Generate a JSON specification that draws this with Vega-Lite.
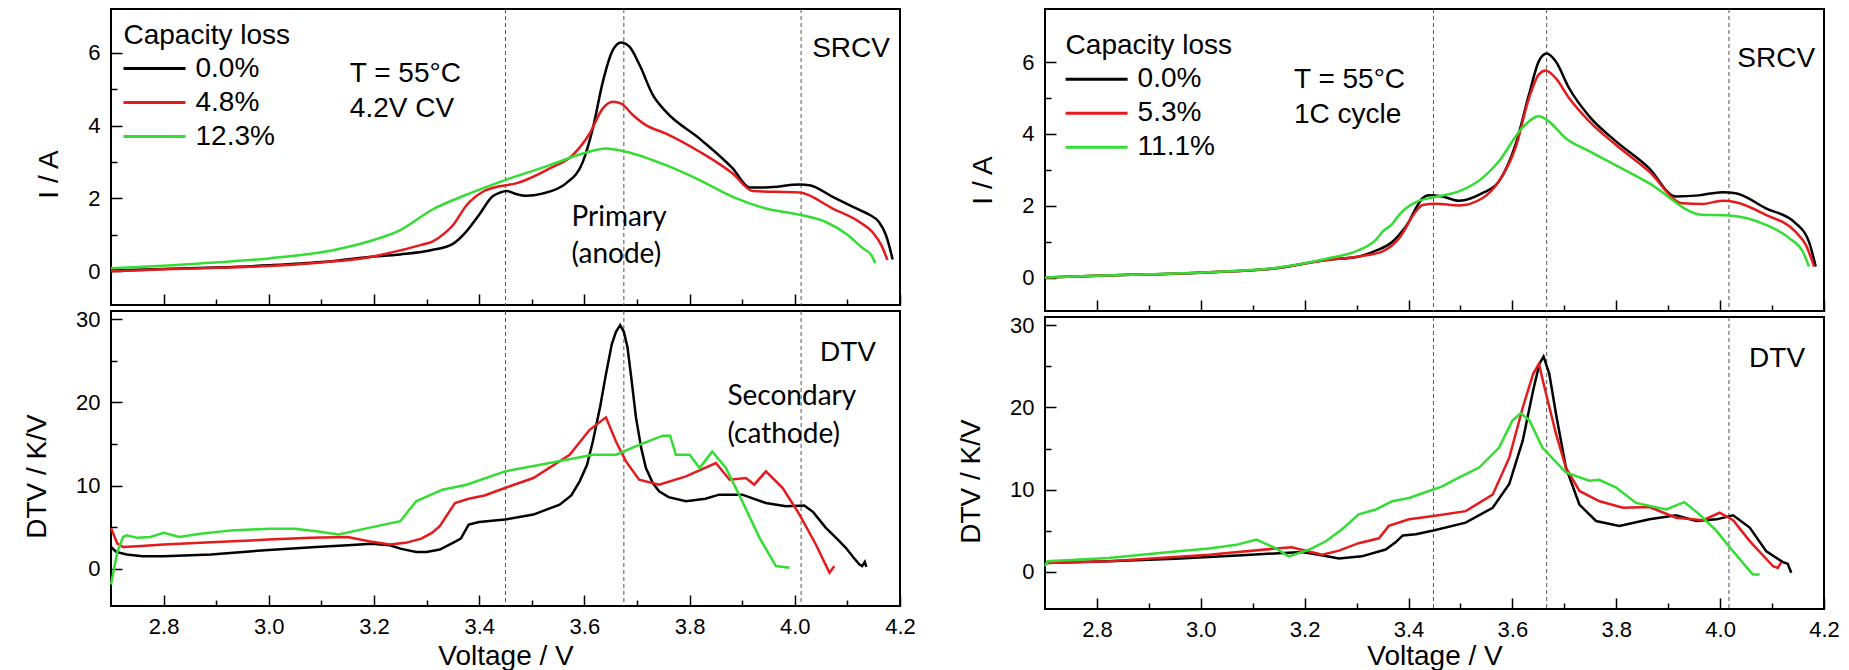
{
  "$schema": "https://vega.github.io/schema/vega-lite/v6.json",
  "padding": {"left": 22, "top": 7, "right": 0, "bottom": 0},
  "background": "white",
  "config": {
    "font": "Liberation Sans",
    "view": {"stroke": "black", "strokeWidth": 2},
    "axis": {"grid": false, "domain": false, "tickColor": "black", "tickWidth": 1.5, "labelColor": "black", "titleColor": "black", "labelFontSize": 22, "titleFontSize": 28, "titleFontWeight": "normal", "labelFont": "Liberation Sans", "titleFont": "Liberation Sans", "labelOverlap": false, "labelFlush": false, "labelBound": false},
    "legend": {"titleFontSize": 28, "titleFontWeight": "normal", "titleFont": "Liberation Sans", "titleColor": "black", "labelFontSize": 28, "labelFont": "Liberation Sans", "labelColor": "black", "symbolType": "M-3,0H3", "symbolSize": 427, "symbolStrokeWidth": 3, "symbolOffset": 17, "labelOffset": 27, "rowPadding": 6, "titlePadding": 5, "padding": 0}
  },
  "datasets": {
    "refL": [{"V": 3.45}, {"V": 3.675}, {"V": 4.012}],
    "refR": [{"V": 3.448}, {"V": 3.666}, {"V": 4.017}],
    "leftI": [
      {"loss": "0.0%", "V": 2.70, "y": 0.02}, {"loss": "0.0%", "V": 2.80, "y": 0.06}, {"loss": "0.0%", "V": 2.90, "y": 0.10}, {"loss": "0.0%", "V": 3.00, "y": 0.16}, {"loss": "0.0%", "V": 3.10, "y": 0.25}, {"loss": "0.0%", "V": 3.19, "y": 0.39}, {"loss": "0.0%", "V": 3.25, "y": 0.46}, {"loss": "0.0%", "V": 3.31, "y": 0.58}, {"loss": "0.0%", "V": 3.35, "y": 0.75}, {"loss": "0.0%", "V": 3.375, "y": 1.08}, {"loss": "0.0%", "V": 3.40, "y": 1.55}, {"loss": "0.0%", "V": 3.425, "y": 2.05}, {"loss": "0.0%", "V": 3.44, "y": 2.16}, {"loss": "0.0%", "V": 3.452, "y": 2.2}, {"loss": "0.0%", "V": 3.47, "y": 2.12}, {"loss": "0.0%", "V": 3.49, "y": 2.07}, {"loss": "0.0%", "V": 3.52, "y": 2.13}, {"loss": "0.0%", "V": 3.565, "y": 2.41}, {"loss": "0.0%", "V": 3.597, "y": 3.0}, {"loss": "0.0%", "V": 3.616, "y": 3.92}, {"loss": "0.0%", "V": 3.635, "y": 5.2}, {"loss": "0.0%", "V": 3.654, "y": 6.07}, {"loss": "0.0%", "V": 3.67, "y": 6.28}, {"loss": "0.0%", "V": 3.686, "y": 6.16}, {"loss": "0.0%", "V": 3.705, "y": 5.66}, {"loss": "0.0%", "V": 3.73, "y": 4.84}, {"loss": "0.0%", "V": 3.755, "y": 4.38}, {"loss": "0.0%", "V": 3.819, "y": 3.64}, {"loss": "0.0%", "V": 3.882, "y": 2.82}, {"loss": "0.0%", "V": 3.914, "y": 2.30}, {"loss": "0.0%", "V": 3.945, "y": 2.30}, {"loss": "0.0%", "V": 4.009, "y": 2.38}, {"loss": "0.0%", "V": 4.028, "y": 2.36}, {"loss": "0.0%", "V": 4.072, "y": 2.04}, {"loss": "0.0%", "V": 4.123, "y": 1.68}, {"loss": "0.0%", "V": 4.142, "y": 1.55}, {"loss": "0.0%", "V": 4.16, "y": 1.35}, {"loss": "0.0%", "V": 4.173, "y": 1.0}, {"loss": "0.0%", "V": 4.183, "y": 0.5}, {"loss": "0.0%", "V": 4.186, "y": 0.32},
      {"loss": "4.8%", "V": 2.70, "y": 0.0}, {"loss": "4.8%", "V": 2.75, "y": 0.02}, {"loss": "4.8%", "V": 2.80, "y": 0.05}, {"loss": "4.8%", "V": 2.90, "y": 0.09}, {"loss": "4.8%", "V": 3.00, "y": 0.14}, {"loss": "4.8%", "V": 3.10, "y": 0.24}, {"loss": "4.8%", "V": 3.186, "y": 0.37}, {"loss": "4.8%", "V": 3.25, "y": 0.57}, {"loss": "4.8%", "V": 3.29, "y": 0.72}, {"loss": "4.8%", "V": 3.312, "y": 0.82}, {"loss": "4.8%", "V": 3.335, "y": 1.05}, {"loss": "4.8%", "V": 3.35, "y": 1.26}, {"loss": "4.8%", "V": 3.376, "y": 1.81}, {"loss": "4.8%", "V": 3.407, "y": 2.18}, {"loss": "4.8%", "V": 3.439, "y": 2.33}, {"loss": "4.8%", "V": 3.47, "y": 2.41}, {"loss": "4.8%", "V": 3.534, "y": 2.82}, {"loss": "4.8%", "V": 3.578, "y": 3.19}, {"loss": "4.8%", "V": 3.61, "y": 3.78}, {"loss": "4.8%", "V": 3.635, "y": 4.47}, {"loss": "4.8%", "V": 3.654, "y": 4.65}, {"loss": "4.8%", "V": 3.67, "y": 4.60}, {"loss": "4.8%", "V": 3.692, "y": 4.29}, {"loss": "4.8%", "V": 3.717, "y": 4.01}, {"loss": "4.8%", "V": 3.755, "y": 3.78}, {"loss": "4.8%", "V": 3.819, "y": 3.28}, {"loss": "4.8%", "V": 3.882, "y": 2.68}, {"loss": "4.8%", "V": 3.92, "y": 2.20}, {"loss": "4.8%", "V": 4.009, "y": 2.16}, {"loss": "4.8%", "V": 4.072, "y": 1.72}, {"loss": "4.8%", "V": 4.123, "y": 1.35}, {"loss": "4.8%", "V": 4.148, "y": 1.07}, {"loss": "4.8%", "V": 4.165, "y": 0.7}, {"loss": "4.8%", "V": 4.176, "y": 0.31},
      {"loss": "12.3%", "V": 2.70, "y": 0.08}, {"loss": "12.3%", "V": 2.80, "y": 0.15}, {"loss": "12.3%", "V": 2.87, "y": 0.21}, {"loss": "12.3%", "V": 3.00, "y": 0.35}, {"loss": "12.3%", "V": 3.124, "y": 0.58}, {"loss": "12.3%", "V": 3.186, "y": 0.8}, {"loss": "12.3%", "V": 3.249, "y": 1.12}, {"loss": "12.3%", "V": 3.312, "y": 1.70}, {"loss": "12.3%", "V": 3.376, "y": 2.10}, {"loss": "12.3%", "V": 3.449, "y": 2.50}, {"loss": "12.3%", "V": 3.534, "y": 2.91}, {"loss": "12.3%", "V": 3.597, "y": 3.23}, {"loss": "12.3%", "V": 3.641, "y": 3.37}, {"loss": "12.3%", "V": 3.679, "y": 3.28}, {"loss": "12.3%", "V": 3.755, "y": 2.91}, {"loss": "12.3%", "V": 3.819, "y": 2.50}, {"loss": "12.3%", "V": 3.882, "y": 2.04}, {"loss": "12.3%", "V": 3.945, "y": 1.72}, {"loss": "12.3%", "V": 4.009, "y": 1.55}, {"loss": "12.3%", "V": 4.059, "y": 1.35}, {"loss": "12.3%", "V": 4.10, "y": 1.0}, {"loss": "12.3%", "V": 4.13, "y": 0.62}, {"loss": "12.3%", "V": 4.145, "y": 0.45}, {"loss": "12.3%", "V": 4.153, "y": 0.22}
    ],
    "leftD": [
      {"loss": "0.0%", "V": 2.700, "y": 2.6}, {"loss": "0.0%", "V": 2.710, "y": 2.0}, {"loss": "0.0%", "V": 2.730, "y": 1.7}, {"loss": "0.0%", "V": 2.76, "y": 1.5}, {"loss": "0.0%", "V": 2.80, "y": 1.5}, {"loss": "0.0%", "V": 2.89, "y": 1.7}, {"loss": "0.0%", "V": 3.00, "y": 2.25}, {"loss": "0.0%", "V": 3.09, "y": 2.6}, {"loss": "0.0%", "V": 3.15, "y": 2.8}, {"loss": "0.0%", "V": 3.196, "y": 2.98}, {"loss": "0.0%", "V": 3.23, "y": 2.8}, {"loss": "0.0%", "V": 3.25, "y": 2.4}, {"loss": "0.0%", "V": 3.28, "y": 2.0}, {"loss": "0.0%", "V": 3.30, "y": 2.0}, {"loss": "0.0%", "V": 3.325, "y": 2.3}, {"loss": "0.0%", "V": 3.35, "y": 3.1}, {"loss": "0.0%", "V": 3.365, "y": 3.6}, {"loss": "0.0%", "V": 3.38, "y": 5.3}, {"loss": "0.0%", "V": 3.40, "y": 5.6}, {"loss": "0.0%", "V": 3.449, "y": 5.9}, {"loss": "0.0%", "V": 3.503, "y": 6.5}, {"loss": "0.0%", "V": 3.553, "y": 7.7}, {"loss": "0.0%", "V": 3.575, "y": 8.8}, {"loss": "0.0%", "V": 3.591, "y": 10.5}, {"loss": "0.0%", "V": 3.605, "y": 12.5}, {"loss": "0.0%", "V": 3.616, "y": 15.3}, {"loss": "0.0%", "V": 3.63, "y": 19.5}, {"loss": "0.0%", "V": 3.641, "y": 23.4}, {"loss": "0.0%", "V": 3.652, "y": 27.0}, {"loss": "0.0%", "V": 3.66, "y": 28.5}, {"loss": "0.0%", "V": 3.668, "y": 29.3}, {"loss": "0.0%", "V": 3.675, "y": 28.5}, {"loss": "0.0%", "V": 3.682, "y": 26.6}, {"loss": "0.0%", "V": 3.69, "y": 22.5}, {"loss": "0.0%", "V": 3.698, "y": 18.2}, {"loss": "0.0%", "V": 3.708, "y": 14.5}, {"loss": "0.0%", "V": 3.717, "y": 12.1}, {"loss": "0.0%", "V": 3.73, "y": 10.3}, {"loss": "0.0%", "V": 3.742, "y": 9.3}, {"loss": "0.0%", "V": 3.76, "y": 8.6}, {"loss": "0.0%", "V": 3.793, "y": 8.1}, {"loss": "0.0%", "V": 3.83, "y": 8.4}, {"loss": "0.0%", "V": 3.856, "y": 8.9}, {"loss": "0.0%", "V": 3.90, "y": 8.9}, {"loss": "0.0%", "V": 3.945, "y": 7.9}, {"loss": "0.0%", "V": 3.983, "y": 7.5}, {"loss": "0.0%", "V": 4.018, "y": 7.6}, {"loss": "0.0%", "V": 4.035, "y": 6.8}, {"loss": "0.0%", "V": 4.059, "y": 4.9}, {"loss": "0.0%", "V": 4.08, "y": 3.6}, {"loss": "0.0%", "V": 4.097, "y": 2.5}, {"loss": "0.0%", "V": 4.112, "y": 1.3}, {"loss": "0.0%", "V": 4.123, "y": 0.5}, {"loss": "0.0%", "V": 4.128, "y": 0.3}, {"loss": "0.0%", "V": 4.133, "y": 0.8}, {"loss": "0.0%", "V": 4.136, "y": 0.2},
      {"loss": "4.8%", "V": 2.700, "y": 4.9}, {"loss": "4.8%", "V": 2.712, "y": 3.0}, {"loss": "4.8%", "V": 2.723, "y": 2.6}, {"loss": "4.8%", "V": 2.75, "y": 2.7}, {"loss": "4.8%", "V": 2.80, "y": 2.9}, {"loss": "4.8%", "V": 2.90, "y": 3.2}, {"loss": "4.8%", "V": 3.00, "y": 3.5}, {"loss": "4.8%", "V": 3.08, "y": 3.7}, {"loss": "4.8%", "V": 3.15, "y": 3.8}, {"loss": "4.8%", "V": 3.19, "y": 3.3}, {"loss": "4.8%", "V": 3.23, "y": 2.9}, {"loss": "4.8%", "V": 3.26, "y": 3.1}, {"loss": "4.8%", "V": 3.29, "y": 3.6}, {"loss": "4.8%", "V": 3.31, "y": 4.3}, {"loss": "4.8%", "V": 3.325, "y": 5.1}, {"loss": "4.8%", "V": 3.354, "y": 7.9}, {"loss": "4.8%", "V": 3.38, "y": 8.4}, {"loss": "4.8%", "V": 3.41, "y": 8.8}, {"loss": "4.8%", "V": 3.449, "y": 9.7}, {"loss": "4.8%", "V": 3.503, "y": 10.9}, {"loss": "4.8%", "V": 3.572, "y": 13.7}, {"loss": "4.8%", "V": 3.61, "y": 16.7}, {"loss": "4.8%", "V": 3.641, "y": 18.2}, {"loss": "4.8%", "V": 3.66, "y": 15.3}, {"loss": "4.8%", "V": 3.679, "y": 12.9}, {"loss": "4.8%", "V": 3.704, "y": 10.7}, {"loss": "4.8%", "V": 3.742, "y": 10.1}, {"loss": "4.8%", "V": 3.793, "y": 11.1}, {"loss": "4.8%", "V": 3.85, "y": 12.7}, {"loss": "4.8%", "V": 3.876, "y": 10.7}, {"loss": "4.8%", "V": 3.907, "y": 10.9}, {"loss": "4.8%", "V": 3.923, "y": 10.1}, {"loss": "4.8%", "V": 3.945, "y": 11.7}, {"loss": "4.8%", "V": 3.977, "y": 9.7}, {"loss": "4.8%", "V": 4.009, "y": 6.5}, {"loss": "4.8%", "V": 4.04, "y": 2.9}, {"loss": "4.8%", "V": 4.066, "y": -0.5}, {"loss": "4.8%", "V": 4.075, "y": 0.3},
      {"loss": "12.3%", "V": 2.700, "y": -1.9}, {"loss": "12.3%", "V": 2.712, "y": 2.0}, {"loss": "12.3%", "V": 2.723, "y": 3.8}, {"loss": "12.3%", "V": 2.73, "y": 4.0}, {"loss": "12.3%", "V": 2.75, "y": 3.7}, {"loss": "12.3%", "V": 2.775, "y": 3.8}, {"loss": "12.3%", "V": 2.80, "y": 4.3}, {"loss": "12.3%", "V": 2.83, "y": 3.8}, {"loss": "12.3%", "V": 2.87, "y": 4.2}, {"loss": "12.3%", "V": 2.93, "y": 4.6}, {"loss": "12.3%", "V": 3.00, "y": 4.8}, {"loss": "12.3%", "V": 3.05, "y": 4.8}, {"loss": "12.3%", "V": 3.09, "y": 4.5}, {"loss": "12.3%", "V": 3.133, "y": 4.1}, {"loss": "12.3%", "V": 3.19, "y": 4.9}, {"loss": "12.3%", "V": 3.25, "y": 5.7}, {"loss": "12.3%", "V": 3.28, "y": 8.1}, {"loss": "12.3%", "V": 3.33, "y": 9.5}, {"loss": "12.3%", "V": 3.376, "y": 10.1}, {"loss": "12.3%", "V": 3.449, "y": 11.7}, {"loss": "12.3%", "V": 3.534, "y": 12.7}, {"loss": "12.3%", "V": 3.616, "y": 13.7}, {"loss": "12.3%", "V": 3.66, "y": 13.7}, {"loss": "12.3%", "V": 3.704, "y": 14.9}, {"loss": "12.3%", "V": 3.749, "y": 16.0}, {"loss": "12.3%", "V": 3.763, "y": 16.0}, {"loss": "12.3%", "V": 3.774, "y": 13.7}, {"loss": "12.3%", "V": 3.80, "y": 13.7}, {"loss": "12.3%", "V": 3.819, "y": 12.1}, {"loss": "12.3%", "V": 3.843, "y": 14.1}, {"loss": "12.3%", "V": 3.869, "y": 12.1}, {"loss": "12.3%", "V": 3.894, "y": 8.9}, {"loss": "12.3%", "V": 3.933, "y": 3.7}, {"loss": "12.3%", "V": 3.964, "y": 0.3}, {"loss": "12.3%", "V": 3.99, "y": 0.1}
    ],
    "rightI": [
      {"loss": "0.0%", "V": 2.70, "y": 0.0}, {"loss": "0.0%", "V": 2.80, "y": 0.05}, {"loss": "0.0%", "V": 2.90, "y": 0.09}, {"loss": "0.0%", "V": 3.016, "y": 0.15}, {"loss": "0.0%", "V": 3.144, "y": 0.26}, {"loss": "0.0%", "V": 3.24, "y": 0.49}, {"loss": "0.0%", "V": 3.305, "y": 0.59}, {"loss": "0.0%", "V": 3.337, "y": 0.75}, {"loss": "0.0%", "V": 3.369, "y": 1.0}, {"loss": "0.0%", "V": 3.382, "y": 1.19}, {"loss": "0.0%", "V": 3.401, "y": 1.56}, {"loss": "0.0%", "V": 3.414, "y": 1.93}, {"loss": "0.0%", "V": 3.427, "y": 2.21}, {"loss": "0.0%", "V": 3.439, "y": 2.29}, {"loss": "0.0%", "V": 3.465, "y": 2.26}, {"loss": "0.0%", "V": 3.497, "y": 2.14}, {"loss": "0.0%", "V": 3.542, "y": 2.35}, {"loss": "0.0%", "V": 3.574, "y": 2.68}, {"loss": "0.0%", "V": 3.606, "y": 3.7}, {"loss": "0.0%", "V": 3.632, "y": 5.1}, {"loss": "0.0%", "V": 3.651, "y": 6.03}, {"loss": "0.0%", "V": 3.666, "y": 6.24}, {"loss": "0.0%", "V": 3.683, "y": 6.03}, {"loss": "0.0%", "V": 3.709, "y": 5.28}, {"loss": "0.0%", "V": 3.748, "y": 4.49}, {"loss": "0.0%", "V": 3.799, "y": 3.8}, {"loss": "0.0%", "V": 3.863, "y": 3.05}, {"loss": "0.0%", "V": 3.914, "y": 2.26}, {"loss": "0.0%", "V": 3.959, "y": 2.29}, {"loss": "0.0%", "V": 4.004, "y": 2.38}, {"loss": "0.0%", "V": 4.03, "y": 2.35}, {"loss": "0.0%", "V": 4.088, "y": 1.93}, {"loss": "0.0%", "V": 4.145, "y": 1.52}, {"loss": "0.0%", "V": 4.171, "y": 1.0}, {"loss": "0.0%", "V": 4.184, "y": 0.31},
      {"loss": "5.3%", "V": 2.70, "y": 0.0}, {"loss": "5.3%", "V": 2.80, "y": 0.05}, {"loss": "5.3%", "V": 2.90, "y": 0.09}, {"loss": "5.3%", "V": 3.016, "y": 0.15}, {"loss": "5.3%", "V": 3.144, "y": 0.26}, {"loss": "5.3%", "V": 3.24, "y": 0.48}, {"loss": "5.3%", "V": 3.305, "y": 0.59}, {"loss": "5.3%", "V": 3.35, "y": 0.73}, {"loss": "5.3%", "V": 3.382, "y": 1.1}, {"loss": "5.3%", "V": 3.414, "y": 1.84}, {"loss": "5.3%", "V": 3.427, "y": 2.02}, {"loss": "5.3%", "V": 3.452, "y": 2.06}, {"loss": "5.3%", "V": 3.497, "y": 2.01}, {"loss": "5.3%", "V": 3.542, "y": 2.21}, {"loss": "5.3%", "V": 3.574, "y": 2.68}, {"loss": "5.3%", "V": 3.606, "y": 3.61}, {"loss": "5.3%", "V": 3.632, "y": 5.0}, {"loss": "5.3%", "V": 3.651, "y": 5.66}, {"loss": "5.3%", "V": 3.664, "y": 5.77}, {"loss": "5.3%", "V": 3.683, "y": 5.56}, {"loss": "5.3%", "V": 3.709, "y": 5.0}, {"loss": "5.3%", "V": 3.748, "y": 4.35}, {"loss": "5.3%", "V": 3.799, "y": 3.7}, {"loss": "5.3%", "V": 3.863, "y": 2.96}, {"loss": "5.3%", "V": 3.927, "y": 2.07}, {"loss": "5.3%", "V": 3.965, "y": 2.05}, {"loss": "5.3%", "V": 4.004, "y": 2.14}, {"loss": "5.3%", "V": 4.03, "y": 2.10}, {"loss": "5.3%", "V": 4.088, "y": 1.75}, {"loss": "5.3%", "V": 4.145, "y": 1.28}, {"loss": "5.3%", "V": 4.165, "y": 0.91}, {"loss": "5.3%", "V": 4.181, "y": 0.31},
      {"loss": "11.1%", "V": 2.70, "y": 0.0}, {"loss": "11.1%", "V": 2.80, "y": 0.05}, {"loss": "11.1%", "V": 2.90, "y": 0.09}, {"loss": "11.1%", "V": 3.016, "y": 0.15}, {"loss": "11.1%", "V": 3.144, "y": 0.27}, {"loss": "11.1%", "V": 3.24, "y": 0.52}, {"loss": "11.1%", "V": 3.305, "y": 0.77}, {"loss": "11.1%", "V": 3.337, "y": 1.05}, {"loss": "11.1%", "V": 3.35, "y": 1.28}, {"loss": "11.1%", "V": 3.369, "y": 1.5}, {"loss": "11.1%", "V": 3.382, "y": 1.75}, {"loss": "11.1%", "V": 3.414, "y": 2.1}, {"loss": "11.1%", "V": 3.446, "y": 2.23}, {"loss": "11.1%", "V": 3.497, "y": 2.4}, {"loss": "11.1%", "V": 3.542, "y": 2.77}, {"loss": "11.1%", "V": 3.574, "y": 3.24}, {"loss": "11.1%", "V": 3.619, "y": 4.17}, {"loss": "11.1%", "V": 3.651, "y": 4.49}, {"loss": "11.1%", "V": 3.67, "y": 4.35}, {"loss": "11.1%", "V": 3.702, "y": 3.89}, {"loss": "11.1%", "V": 3.748, "y": 3.52}, {"loss": "11.1%", "V": 3.863, "y": 2.63}, {"loss": "11.1%", "V": 3.965, "y": 1.75}, {"loss": "11.1%", "V": 4.017, "y": 1.73}, {"loss": "11.1%", "V": 4.088, "y": 1.47}, {"loss": "11.1%", "V": 4.133, "y": 1.1}, {"loss": "11.1%", "V": 4.16, "y": 0.7}, {"loss": "11.1%", "V": 4.171, "y": 0.31}
    ],
    "rightD": [
      {"loss": "0.0%", "V": 2.70, "y": 1.1}, {"loss": "0.0%", "V": 2.823, "y": 1.3}, {"loss": "0.0%", "V": 2.951, "y": 1.6}, {"loss": "0.0%", "V": 3.08, "y": 2.03}, {"loss": "0.0%", "V": 3.195, "y": 2.44}, {"loss": "0.0%", "V": 3.227, "y": 2.1}, {"loss": "0.0%", "V": 3.266, "y": 1.63}, {"loss": "0.0%", "V": 3.31, "y": 1.9}, {"loss": "0.0%", "V": 3.356, "y": 2.73}, {"loss": "0.0%", "V": 3.375, "y": 3.6}, {"loss": "0.0%", "V": 3.389, "y": 4.44}, {"loss": "0.0%", "V": 3.414, "y": 4.6}, {"loss": "0.0%", "V": 3.448, "y": 5.05}, {"loss": "0.0%", "V": 3.51, "y": 6.0}, {"loss": "0.0%", "V": 3.562, "y": 7.8}, {"loss": "0.0%", "V": 3.594, "y": 10.7}, {"loss": "0.0%", "V": 3.62, "y": 16.0}, {"loss": "0.0%", "V": 3.64, "y": 22.1}, {"loss": "0.0%", "V": 3.652, "y": 25.3}, {"loss": "0.0%", "V": 3.66, "y": 26.2}, {"loss": "0.0%", "V": 3.671, "y": 24.1}, {"loss": "0.0%", "V": 3.684, "y": 19.2}, {"loss": "0.0%", "V": 3.703, "y": 12.7}, {"loss": "0.0%", "V": 3.729, "y": 8.2}, {"loss": "0.0%", "V": 3.761, "y": 6.2}, {"loss": "0.0%", "V": 3.806, "y": 5.58}, {"loss": "0.0%", "V": 3.864, "y": 6.4}, {"loss": "0.0%", "V": 3.915, "y": 6.9}, {"loss": "0.0%", "V": 3.954, "y": 6.2}, {"loss": "0.0%", "V": 3.993, "y": 6.4}, {"loss": "0.0%", "V": 4.025, "y": 6.9}, {"loss": "0.0%", "V": 4.057, "y": 5.4}, {"loss": "0.0%", "V": 4.089, "y": 2.5}, {"loss": "0.0%", "V": 4.121, "y": 1.2}, {"loss": "0.0%", "V": 4.13, "y": 1.0}, {"loss": "0.0%", "V": 4.137, "y": -0.1},
      {"loss": "5.3%", "V": 2.70, "y": 1.1}, {"loss": "5.3%", "V": 2.823, "y": 1.3}, {"loss": "5.3%", "V": 3.016, "y": 2.1}, {"loss": "5.3%", "V": 3.144, "y": 2.85}, {"loss": "5.3%", "V": 3.175, "y": 3.0}, {"loss": "5.3%", "V": 3.208, "y": 2.5}, {"loss": "5.3%", "V": 3.234, "y": 2.1}, {"loss": "5.3%", "V": 3.266, "y": 2.6}, {"loss": "5.3%", "V": 3.304, "y": 3.5}, {"loss": "5.3%", "V": 3.343, "y": 4.1}, {"loss": "5.3%", "V": 3.362, "y": 5.6}, {"loss": "5.3%", "V": 3.401, "y": 6.4}, {"loss": "5.3%", "V": 3.448, "y": 6.8}, {"loss": "5.3%", "V": 3.51, "y": 7.4}, {"loss": "5.3%", "V": 3.562, "y": 9.4}, {"loss": "5.3%", "V": 3.594, "y": 13.9}, {"loss": "5.3%", "V": 3.62, "y": 20.0}, {"loss": "5.3%", "V": 3.64, "y": 24.1}, {"loss": "5.3%", "V": 3.651, "y": 25.3}, {"loss": "5.3%", "V": 3.665, "y": 21.6}, {"loss": "5.3%", "V": 3.684, "y": 16.8}, {"loss": "5.3%", "V": 3.703, "y": 12.7}, {"loss": "5.3%", "V": 3.729, "y": 9.85}, {"loss": "5.3%", "V": 3.768, "y": 8.6}, {"loss": "5.3%", "V": 3.813, "y": 7.8}, {"loss": "5.3%", "V": 3.864, "y": 7.9}, {"loss": "5.3%", "V": 3.915, "y": 6.6}, {"loss": "5.3%", "V": 3.967, "y": 6.3}, {"loss": "5.3%", "V": 3.999, "y": 7.2}, {"loss": "5.3%", "V": 4.025, "y": 6.3}, {"loss": "5.3%", "V": 4.057, "y": 3.75}, {"loss": "5.3%", "V": 4.102, "y": 0.7}, {"loss": "5.3%", "V": 4.111, "y": 0.5}, {"loss": "5.3%", "V": 4.118, "y": 1.2},
      {"loss": "11.1%", "V": 2.70, "y": 0.7}, {"loss": "11.1%", "V": 2.705, "y": 1.3}, {"loss": "11.1%", "V": 2.823, "y": 1.7}, {"loss": "11.1%", "V": 2.951, "y": 2.5}, {"loss": "11.1%", "V": 3.016, "y": 2.85}, {"loss": "11.1%", "V": 3.068, "y": 3.3}, {"loss": "11.1%", "V": 3.107, "y": 3.95}, {"loss": "11.1%", "V": 3.144, "y": 2.9}, {"loss": "11.1%", "V": 3.169, "y": 1.9}, {"loss": "11.1%", "V": 3.208, "y": 2.7}, {"loss": "11.1%", "V": 3.24, "y": 3.7}, {"loss": "11.1%", "V": 3.272, "y": 5.2}, {"loss": "11.1%", "V": 3.304, "y": 7.0}, {"loss": "11.1%", "V": 3.337, "y": 7.6}, {"loss": "11.1%", "V": 3.369, "y": 8.6}, {"loss": "11.1%", "V": 3.401, "y": 9.0}, {"loss": "11.1%", "V": 3.446, "y": 10.0}, {"loss": "11.1%", "V": 3.465, "y": 10.4}, {"loss": "11.1%", "V": 3.491, "y": 11.3}, {"loss": "11.1%", "V": 3.536, "y": 12.7}, {"loss": "11.1%", "V": 3.574, "y": 15.1}, {"loss": "11.1%", "V": 3.6, "y": 18.4}, {"loss": "11.1%", "V": 3.616, "y": 19.3}, {"loss": "11.1%", "V": 3.633, "y": 18.4}, {"loss": "11.1%", "V": 3.658, "y": 15.1}, {"loss": "11.1%", "V": 3.703, "y": 12.1}, {"loss": "11.1%", "V": 3.748, "y": 11.1}, {"loss": "11.1%", "V": 3.767, "y": 11.2}, {"loss": "11.1%", "V": 3.799, "y": 10.3}, {"loss": "11.1%", "V": 3.838, "y": 8.4}, {"loss": "11.1%", "V": 3.896, "y": 7.6}, {"loss": "11.1%", "V": 3.931, "y": 8.5}, {"loss": "11.1%", "V": 3.96, "y": 7.0}, {"loss": "11.1%", "V": 3.993, "y": 5.0}, {"loss": "11.1%", "V": 4.025, "y": 2.5}, {"loss": "11.1%", "V": 4.063, "y": -0.3}, {"loss": "11.1%", "V": 4.076, "y": -0.3}
    ]
  },
  "hconcat": [
    {
      "spacing": 0,
      "resolve": {"scale": {"color": "independent"}, "legend": {"color": "independent"}},
      "vconcat": [
        {
          "width": 789, "height": 296,
          "resolve": {"axis": {"x": "independent", "y": "independent"}},
          "layer": [
            {"data": {"name": "refL"}, "mark": {"type": "rule", "strokeDash": [4, 3], "color": "#555555", "strokeWidth": 1},
             "encoding": {"x": {"field": "V", "type": "quantitative", "axis": {"orient": "bottom", "values": [2.9, 3.1, 3.3, 3.5, 3.7, 3.9, 4.1], "labels": false, "title": null, "tickSize": 6, "offset": -6}}}},
            {"data": {"name": "leftI"}, "mark": {"type": "line", "strokeWidth": 2.5, "interpolate": "monotone"},
             "encoding": {
               "x": {"field": "V", "type": "quantitative", "scale": {"domain": [2.7, 4.2], "nice": false, "zero": false},
                     "axis": {"orient": "bottom", "values": [2.8, 3.0, 3.2, 3.4, 3.6, 3.8, 4.0, 4.2], "labels": false, "title": null, "tickSize": 11, "offset": -11}},
               "y": {"field": "y", "type": "quantitative", "scale": {"domain": [-0.93, 7.2], "nice": false, "zero": false},
                     "axis": {"orient": "left", "values": [0, 2, 4, 6], "tickSize": 11, "offset": -11, "labelPadding": 11, "title": "I / A", "titlePadding": 24, "titleY": 165}},
               "color": {"field": "loss", "type": "nominal", "scale": {"domain": ["0.0%", "4.8%", "12.3%"], "range": ["#000000", "#e41a1c", "#33dd33"]},
                         "legend": {"title": "Capacity loss", "orient": "none", "legendX": 12.5, "legendY": 12.5}}
             }},
            {"data": {"values": [{}]}, "mark": {"type": "text", "align": "left", "baseline": "top", "fontSize": 28, "font": "Liberation Sans", "lineHeight": 35, "color": "black"},
             "encoding": {"x": {"datum": 3.154, "type": "quantitative", "axis": null}, "y": {"datum": 5.80, "type": "quantitative", "axis": {"orient": "left", "values": [1, 3, 5], "labels": false, "title": null, "tickSize": 6, "offset": -6}}, "text": {"value": ["T = 55°C", "4.2V CV"]}}},
            {"data": {"values": [{}]}, "mark": {"type": "text", "align": "left", "baseline": "top", "fontSize": 28, "font": "Liberation Sans", "color": "black"},
             "encoding": {"x": {"datum": 4.033, "type": "quantitative", "axis": null}, "y": {"datum": 6.49, "type": "quantitative", "axis": null}, "text": {"value": "SRCV"}}},
            {"data": {"values": [{}]}, "mark": {"type": "text", "align": "left", "baseline": "top", "fontSize": 28, "font": "Lato", "lineHeight": 37, "color": "black"},
             "encoding": {"x": {"datum": 3.5756, "type": "quantitative", "axis": null}, "y": {"datum": 1.85, "type": "quantitative", "axis": null}, "text": {"value": ["Primary", "(anode)"]}}}
          ]
        },
        {
          "width": 789, "height": 295,
          "resolve": {"axis": {"x": "independent", "y": "independent"}},
          "layer": [
            {"data": {"name": "refL"}, "mark": {"type": "rule", "strokeDash": [4, 3], "color": "#555555", "strokeWidth": 1},
             "encoding": {"x": {"field": "V", "type": "quantitative", "axis": {"orient": "bottom", "values": [2.9, 3.1, 3.3, 3.5, 3.7, 3.9, 4.1], "labels": false, "title": null, "tickSize": 6, "offset": -6}}}},
            {"data": {"name": "leftD"}, "mark": {"type": "line", "strokeWidth": 2.5},
             "encoding": {
               "x": {"field": "V", "type": "quantitative", "scale": {"domain": [2.7, 4.2], "nice": false, "zero": false},
                     "axis": {"orient": "bottom", "values": [2.8, 3.0, 3.2, 3.4, 3.6, 3.8, 4.0, 4.2], "format": ".1f", "tickSize": 11, "offset": -11, "labelPadding": 10, "title": "Voltage / V", "titlePadding": 5}},
               "y": {"field": "y", "type": "quantitative", "scale": {"domain": [-4.5, 31], "nice": false, "zero": false},
                     "axis": {"orient": "left", "values": [0, 10, 20, 30], "tickSize": 11, "offset": -11, "labelPadding": 11, "title": "DTV / K/V", "titlePadding": 24, "titleY": 165}},
               "color": {"field": "loss", "type": "nominal", "scale": {"domain": ["0.0%", "4.8%", "12.3%"], "range": ["#000000", "#e41a1c", "#33dd33"]}, "legend": null}
             }},
            {"data": {"values": [{}]}, "mark": {"type": "text", "align": "left", "baseline": "top", "fontSize": 28, "font": "Liberation Sans", "color": "black"},
             "encoding": {"x": {"datum": 4.048, "type": "quantitative", "axis": null}, "y": {"datum": 27.64, "type": "quantitative", "axis": {"orient": "left", "values": [5, 15, 25], "labels": false, "title": null, "tickSize": 6, "offset": -6}}, "text": {"value": "DTV"}}},
            {"data": {"values": [{}]}, "mark": {"type": "text", "align": "left", "baseline": "top", "fontSize": 28, "font": "Lato", "lineHeight": 38, "color": "black"},
             "encoding": {"x": {"datum": 3.872, "type": "quantitative", "axis": null}, "y": {"datum": 22.34, "type": "quantitative", "axis": null}, "text": {"value": ["Secondary", "(cathode)"]}}}
          ]
        }
      ]
    },
    {
      "spacing": 0,
      "resolve": {"scale": {"color": "independent"}, "legend": {"color": "independent"}},
      "vconcat": [
        {
          "width": 779, "height": 302,
          "resolve": {"axis": {"x": "independent", "y": "independent"}},
          "layer": [
            {"data": {"name": "refR"}, "mark": {"type": "rule", "strokeDash": [4, 3], "color": "#555555", "strokeWidth": 1},
             "encoding": {"x": {"field": "V", "type": "quantitative", "axis": {"orient": "bottom", "values": [2.9, 3.1, 3.3, 3.5, 3.7, 3.9, 4.1], "labels": false, "title": null, "tickSize": 6, "offset": -6}}}},
            {"data": {"name": "rightI"}, "mark": {"type": "line", "strokeWidth": 2.5, "interpolate": "monotone"},
             "encoding": {
               "x": {"field": "V", "type": "quantitative", "scale": {"domain": [2.7, 4.2], "nice": false, "zero": false},
                     "axis": {"orient": "bottom", "values": [2.8, 3.0, 3.2, 3.4, 3.6, 3.8, 4.0, 4.2], "labels": false, "title": null, "tickSize": 11, "offset": -11}},
               "y": {"field": "y", "type": "quantitative", "scale": {"domain": [-0.93, 7.48], "nice": false, "zero": false},
                     "axis": {"orient": "left", "values": [0, 2, 4, 6], "tickSize": 11, "offset": -11, "labelPadding": 11, "title": "I / A", "titlePadding": 24, "titleY": 171}},
               "color": {"field": "loss", "type": "nominal", "scale": {"domain": ["0.0%", "5.3%", "11.1%"], "range": ["#000000", "#e41a1c", "#33dd33"]},
                         "legend": {"title": "Capacity loss", "orient": "none", "legendX": 20.6, "legendY": 23.2}}
             }},
            {"data": {"values": [{}]}, "mark": {"type": "text", "align": "left", "baseline": "top", "fontSize": 28, "font": "Liberation Sans", "lineHeight": 35, "color": "black"},
             "encoding": {"x": {"datum": 3.1795, "type": "quantitative", "axis": null}, "y": {"datum": 5.90, "type": "quantitative", "axis": {"orient": "left", "values": [1, 3, 5], "labels": false, "title": null, "tickSize": 6, "offset": -6}}, "text": {"value": ["T = 55°C", "1C cycle"]}}},
            {"data": {"values": [{}]}, "mark": {"type": "text", "align": "left", "baseline": "top", "fontSize": 28, "font": "Liberation Sans", "color": "black"},
             "encoding": {"x": {"datum": 4.033, "type": "quantitative", "axis": null}, "y": {"datum": 6.475, "type": "quantitative", "axis": null}, "text": {"value": "SRCV"}}}
          ]
        },
        {
          "width": 779, "height": 292,
          "resolve": {"axis": {"x": "independent", "y": "independent"}},
          "layer": [
            {"data": {"name": "refR"}, "mark": {"type": "rule", "strokeDash": [4, 3], "color": "#555555", "strokeWidth": 1},
             "encoding": {"x": {"field": "V", "type": "quantitative", "axis": {"orient": "bottom", "values": [2.9, 3.1, 3.3, 3.5, 3.7, 3.9, 4.1], "labels": false, "title": null, "tickSize": 6, "offset": -6}}}},
            {"data": {"name": "rightD"}, "mark": {"type": "line", "strokeWidth": 2.5},
             "encoding": {
               "x": {"field": "V", "type": "quantitative", "scale": {"domain": [2.7, 4.2], "nice": false, "zero": false},
                     "axis": {"orient": "bottom", "values": [2.8, 3.0, 3.2, 3.4, 3.6, 3.8, 4.0, 4.2], "format": ".1f", "tickSize": 11, "offset": -11, "labelPadding": 10, "title": "Voltage / V", "titlePadding": 2}},
               "y": {"field": "y", "type": "quantitative", "scale": {"domain": [-4.5, 31], "nice": false, "zero": false},
                     "axis": {"orient": "left", "values": [0, 10, 20, 30], "tickSize": 11, "offset": -11, "labelPadding": 11, "title": "DTV / K/V", "titlePadding": 24, "titleY": 164}},
               "color": {"field": "loss", "type": "nominal", "scale": {"domain": ["0.0%", "5.3%", "11.1%"], "range": ["#000000", "#e41a1c", "#33dd33"]}, "legend": null}
             }},
            {"data": {"values": [{}]}, "mark": {"type": "text", "align": "left", "baseline": "top", "fontSize": 28, "font": "Liberation Sans", "color": "black"},
             "encoding": {"x": {"datum": 4.0557, "type": "quantitative", "axis": null}, "y": {"datum": 27.6, "type": "quantitative", "axis": {"orient": "left", "values": [5, 15, 25], "labels": false, "title": null, "tickSize": 6, "offset": -6}}, "text": {"value": "DTV"}}}
          ]
        }
      ]
    }
  ],
  "align": "none",
  "spacing": 39,
  "resolve": {"scale": {"color": "independent"}, "legend": {"color": "independent"}}
}
